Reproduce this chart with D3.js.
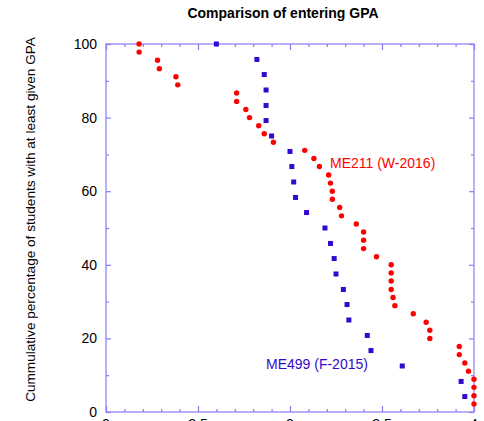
<!DOCTYPE html>
<html>
<head>
<meta charset="utf-8">
<script src="https://cdn.jsdelivr.net/npm/d3@7"></script>
<style>
  html, body { margin: 0; padding: 0; background: #fff; }
  svg { display: block; font-family: "Liberation Sans", Arial, Helvetica, sans-serif; }
</style>
</head>
<body>
<svg id="chart" width="484" height="421"></svg>
<script>
// ME211 (W-2016): entering GPA and cumulative percentage of students at or above it
const me211Gpa = [2.18, 2.18, 2.28, 2.29, 2.38, 2.39, 2.71, 2.71, 2.76, 2.78,
                  2.83, 2.86, 2.91, 3.08, 3.13, 3.16, 3.21, 3.22, 3.23, 3.23,
                  3.27, 3.28, 3.36, 3.40, 3.40, 3.40, 3.47, 3.55, 3.55, 3.55,
                  3.55, 3.56, 3.57, 3.67, 3.74, 3.76, 3.76, 3.92, 3.92, 3.95,
                  3.97, 4.00, 4.00, 4.00, 4.00];
const me211Pct = [100.0, 97.8, 95.6, 93.3, 91.1, 88.9, 86.7, 84.4, 82.2, 80.0,
                  77.8, 75.6, 73.3, 71.1, 68.9, 66.7, 64.4, 62.2, 60.0, 57.8,
                  55.6, 53.3, 51.1, 48.9, 46.7, 44.4, 42.2, 40.0, 37.8, 35.6,
                  33.3, 31.1, 28.9, 26.7, 24.4, 22.2, 20.0, 17.8, 15.6, 13.3,
                  11.1, 8.9, 6.7, 4.4, 2.2];

// ME499 (F-2015)
const me499Gpa = [2.60, 2.82, 2.86, 2.87, 2.87, 2.87, 2.90, 3.00, 3.01, 3.02,
                  3.03, 3.09, 3.19, 3.22, 3.24, 3.25, 3.29, 3.31, 3.32, 3.42,
                  3.44, 3.61, 3.93, 3.95];
const me499Pct = [100.0, 95.8, 91.7, 87.5, 83.3, 79.2, 75.0, 70.8, 66.7, 62.5,
                  58.3, 54.2, 50.0, 45.8, 41.7, 37.5, 33.3, 29.2, 25.0, 20.8,
                  16.7, 12.5, 8.3, 4.2];

const xTicks = [2, 2.5, 3, 3.5, 4];
const yTicks = [0, 20, 40, 60, 80, 100];

const frameColor = "#8a7ef2";
const redColor = "#ff0000";
const blueColor = "#3308d0";

const svg = d3.select("#chart");
const plot = { left: 106, right: 474, top: 44, bottom: 412 };

const x = d3.scaleLinear().domain([2, 4]).range([plot.left, plot.right]);
const y = d3.scaleLinear().domain([0, 100]).range([plot.bottom, plot.top]);

// frame
svg.append("rect")
  .attr("x", plot.left).attr("y", plot.top)
  .attr("width", plot.right - plot.left).attr("height", plot.bottom - plot.top)
  .attr("fill", "none").attr("stroke", frameColor).attr("stroke-width", 1.2);

// inward ticks on all four sides
const xMinor = d3.range(2, 4.0001, 0.1).filter(v => !xTicks.some(t => Math.abs(t - v) < 1e-6));
const yMinor = d3.range(10, 100, 20);

function tickAxis(axisFn, scale, tickValues, size, translate) {
  const g = svg.append("g")
    .attr("transform", translate)
    .call(axisFn(scale).tickValues(tickValues).tickSize(size).tickFormat(""));
  g.select(".domain").remove();
  g.selectAll(".tick line").attr("stroke", frameColor).attr("stroke-width", 1.2);
  return g;
}
// bottom (ticks point up) / top (ticks point down)
tickAxis(d3.axisTop, x, xTicks, 6, `translate(0,${plot.bottom})`);
tickAxis(d3.axisTop, x, xMinor, 3, `translate(0,${plot.bottom})`);
tickAxis(d3.axisBottom, x, xTicks, 6, `translate(0,${plot.top})`);
tickAxis(d3.axisBottom, x, xMinor, 3, `translate(0,${plot.top})`);
// left (ticks point right) / right (ticks point left)
tickAxis(d3.axisRight, y, yTicks, 5, `translate(${plot.left},0)`);
tickAxis(d3.axisRight, y, yMinor, 3, `translate(${plot.left},0)`);
tickAxis(d3.axisLeft, y, yTicks, 5, `translate(${plot.right},0)`);
tickAxis(d3.axisLeft, y, yMinor, 3, `translate(${plot.right},0)`);

// tick labels
svg.append("g").selectAll("text").data(yTicks).join("text")
  .attr("x", plot.left - 9).attr("y", d => y(d))
  .attr("dy", "0.35em")
  .attr("text-anchor", "end")
  .attr("font-size", 14).attr("fill", "#000")
  .text(d => d);

svg.append("g").selectAll("text").data(xTicks).join("text")
  .attr("x", d => x(d)).attr("y", 428.5)
  .attr("text-anchor", "middle")
  .attr("font-size", 14).attr("fill", "#000")
  .text(d => d);

// title
svg.append("text")
  .attr("x", 283).attr("y", 17.5)
  .attr("text-anchor", "middle")
  .attr("font-size", 14).attr("font-weight", "bold")
  .text("Comparison of entering GPA");

// y-axis title
svg.append("text")
  .attr("transform", "translate(34.5,219.5) rotate(-90)")
  .attr("text-anchor", "middle")
  .attr("font-size", 13.6)
  .text("Cummulative percentage of students with at least given GPA");

// ME211 points: red circles
svg.append("g").selectAll("circle").data(me211Gpa).join("circle")
  .attr("cx", d => x(d))
  .attr("cy", (d, i) => y(me211Pct[i]))
  .attr("r", 2.7)
  .attr("fill", redColor);

// ME499 points: blue squares
const sq = 5;
svg.append("g").selectAll("rect").data(me499Gpa).join("rect")
  .attr("x", d => x(d) - sq / 2)
  .attr("y", (d, i) => y(me499Pct[i]) - sq / 2)
  .attr("width", sq).attr("height", sq)
  .attr("fill", blueColor);

// series labels
svg.append("text")
  .attr("x", 330).attr("y", 168)
  .attr("font-size", 14).attr("fill", redColor)
  .text("ME211 (W-2016)");

svg.append("text")
  .attr("x", 266).attr("y", 368.5)
  .attr("font-size", 14).attr("fill", blueColor)
  .text("ME499 (F-2015)");
</script>
</body>
</html>
